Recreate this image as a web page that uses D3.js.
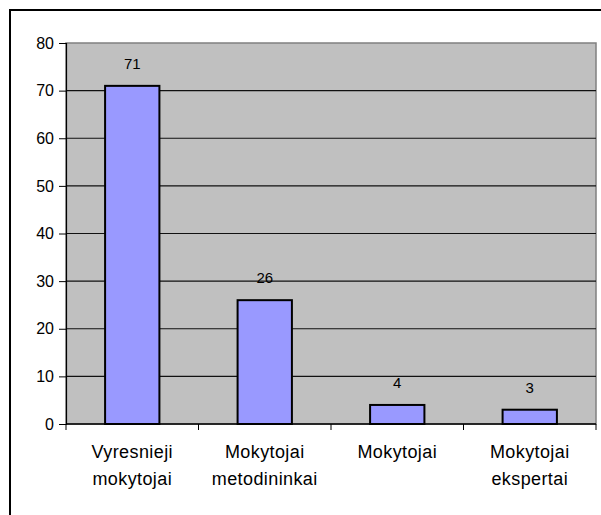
<!DOCTYPE html>
<html><head><meta charset="utf-8">
<script src="https://cdn.jsdelivr.net/npm/d3@7"></script>
<style>body{margin:0;background:#fff;} text{font-family:"Liberation Sans",Arial,sans-serif;}</style>
</head><body>
<svg id="c" width="601" height="515"></svg>
<script>
const categories = [["Vyresnieji","mokytojai"],["Mokytojai","metodininkai"],["Mokytojai"],["Mokytojai","ekspertai"]];
const values = [71, 26, 4, 3];
const yTicks = [0,10,20,30,40,50,60,70,80];

const svg = d3.select("#c");
svg.append("rect").attr("x",10).attr("y",10).attr("width",600).attr("height",520)
  .attr("fill","#fff").attr("stroke","#000").attr("stroke-width",2);

const L=66, R=596, T=43, B=424;
const x = d3.scaleBand().domain(d3.range(values.length)).range([L,R]).paddingInner(0.59).paddingOuter(0.295);
const xb = d3.scaleBand().domain(d3.range(values.length)).range([L,R]);
const y = d3.scaleLinear().domain([0,80]).range([B,T]);

svg.append("rect").attr("x",L).attr("y",T).attr("width",R-L).attr("height",B-T)
  .attr("fill","#C0C0C0").attr("stroke","#808080").attr("stroke-width",1.5);

svg.append("g").selectAll("line").data(yTicks.filter(d=>d>0 && d<80)).join("line")
  .attr("x1",L).attr("x2",R).attr("y1",d=>y(d)).attr("y2",d=>y(d))
  .attr("stroke","#111").attr("stroke-width",1.2);

svg.append("g").selectAll("rect").data(values).join("rect")
  .attr("x",(d,i)=>x(i)).attr("width",x.bandwidth())
  .attr("y",d=>y(d)).attr("height",d=>B-y(d))
  .attr("fill","#9999FF").attr("stroke","#000").attr("stroke-width",2);

svg.append("g").selectAll("text").data(values).join("text")
  .attr("x",(d,i)=>x(i)+x.bandwidth()/2).attr("y",d=>y(d)-17)
  .attr("text-anchor","middle").attr("font-size",15).attr("fill","#000").text(d=>d);

const ya = d3.axisLeft(y).tickValues(yTicks).tickSize(7).tickPadding(5);
const gy = svg.append("g").attr("transform",`translate(${L},0)`).call(ya);
gy.select(".domain").attr("stroke","#000").attr("stroke-width",1.2);
gy.selectAll(".tick line").attr("stroke","#000");
gy.selectAll(".tick text").attr("font-size",16).attr("font-family","Liberation Sans, Arial, sans-serif").attr("fill","#000");

svg.append("line").attr("x1",L).attr("x2",R).attr("y1",B).attr("y2",B).attr("stroke","#000").attr("stroke-width",1.5);
const bounds = xb.domain().map(i=>xb(i)).concat([R]);
svg.append("g").selectAll("line").data(bounds).join("line")
  .attr("x1",d=>d).attr("x2",d=>d).attr("y1",B).attr("y2",B+6).attr("stroke","#000");

const lab = svg.append("g").selectAll("text").data(categories).join("text")
  .attr("text-anchor","middle").attr("font-size",18).attr("letter-spacing","0.4px").attr("fill","#000");
lab.each(function(d,i){
  const t=d3.select(this);
  d.forEach((s,j)=>t.append("tspan").attr("x",xb(i)+xb.bandwidth()/2).attr("y",458+j*27).text(s));
});
</script>
</body></html>
